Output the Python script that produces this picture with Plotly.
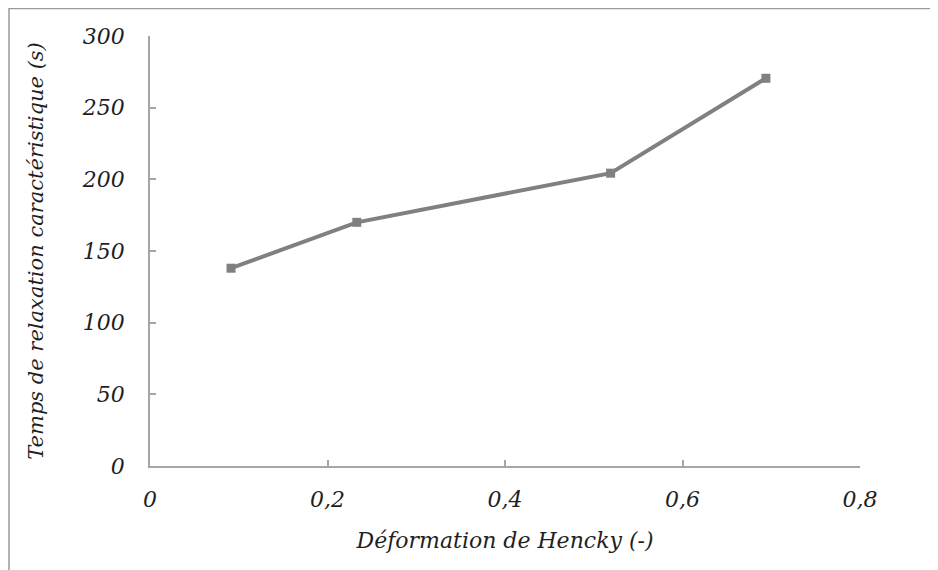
import plotly.graph_objects as go

hencky = [0.0913, 0.233, 0.519, 0.694]
relax_time = [138, 170, 204.3, 270.5]

x_ticks = [0, 0.2, 0.4, 0.6, 0.8]
x_ticklabels = ["0", "0,2", "0,4", "0,6", "0,8"]
y_ticks = [0, 50, 100, 150, 200, 250, 300]
y_ticklabels = ["0", "50", "100", "150", "200", "250", "300"]

W, H = 938, 570
OFF = 8  # page body offset
L, T = 150 - OFF, 36 - OFF
pw, ph = 710, 430
R, B = W - L - pw, H - T - ph

font_fam = "DejaVu Serif"
gray = "#808080"
axis_gray = "#a6a6a6"
fs = 22

fig = go.Figure()
fig.add_trace(go.Scatter(
    x=hencky, y=relax_time, mode="lines+markers",
    line=dict(color=gray, width=4),
    marker=dict(symbol="square", size=9, color=gray),
    showlegend=False,
))

def px2paper_x(px):
    return (px - (L + OFF)) / pw

def px2paper_y(py):
    return (T + OFF + ph - py) / ph

fig.add_shape(type="rect", xref="paper", yref="paper",
              x0=px2paper_x(9), x1=px2paper_x(990),
              y0=px2paper_y(620), y1=px2paper_y(8.5),
              line=dict(color="#9a9a9a", width=1.5), layer="below")

fig.update_layout(
    width=W, height=H,
    margin=dict(l=L, r=R, t=T, b=B),
    paper_bgcolor="white", plot_bgcolor="white",
    font=dict(family=font_fam, size=fs, color="#1f1f1f", style="italic"),
    xaxis=dict(
        range=[0, 0.8], tickvals=x_ticks, ticktext=x_ticklabels,
        showgrid=False, zeroline=False, showline=True, linecolor=axis_gray, linewidth=1.5,
        ticks="inside", ticklen=6, tickcolor=axis_gray, tickwidth=1.5,
        ticklabelstandoff=13,
        tickfont=dict(family=font_fam, size=fs, style="italic"),
        title=dict(text="Déformation de Hencky (-)", standoff=21,
                   font=dict(family=font_fam, size=fs, style="italic")),
    ),
    yaxis=dict(
        range=[0, 300], tickvals=y_ticks, ticktext=y_ticklabels,
        showgrid=False, zeroline=False, showline=True, linecolor=axis_gray, linewidth=1.5,
        ticks="inside", ticklen=6, tickcolor=axis_gray, tickwidth=1.5,
        ticklabelstandoff=19,
        tickfont=dict(family=font_fam, size=fs, style="italic"),
        title=dict(text="Temps de relaxation caractéristique (s)", standoff=32,
                   font=dict(family=font_fam, size=21, style="italic")),
    ),
)

fig.write_html("out.html")
